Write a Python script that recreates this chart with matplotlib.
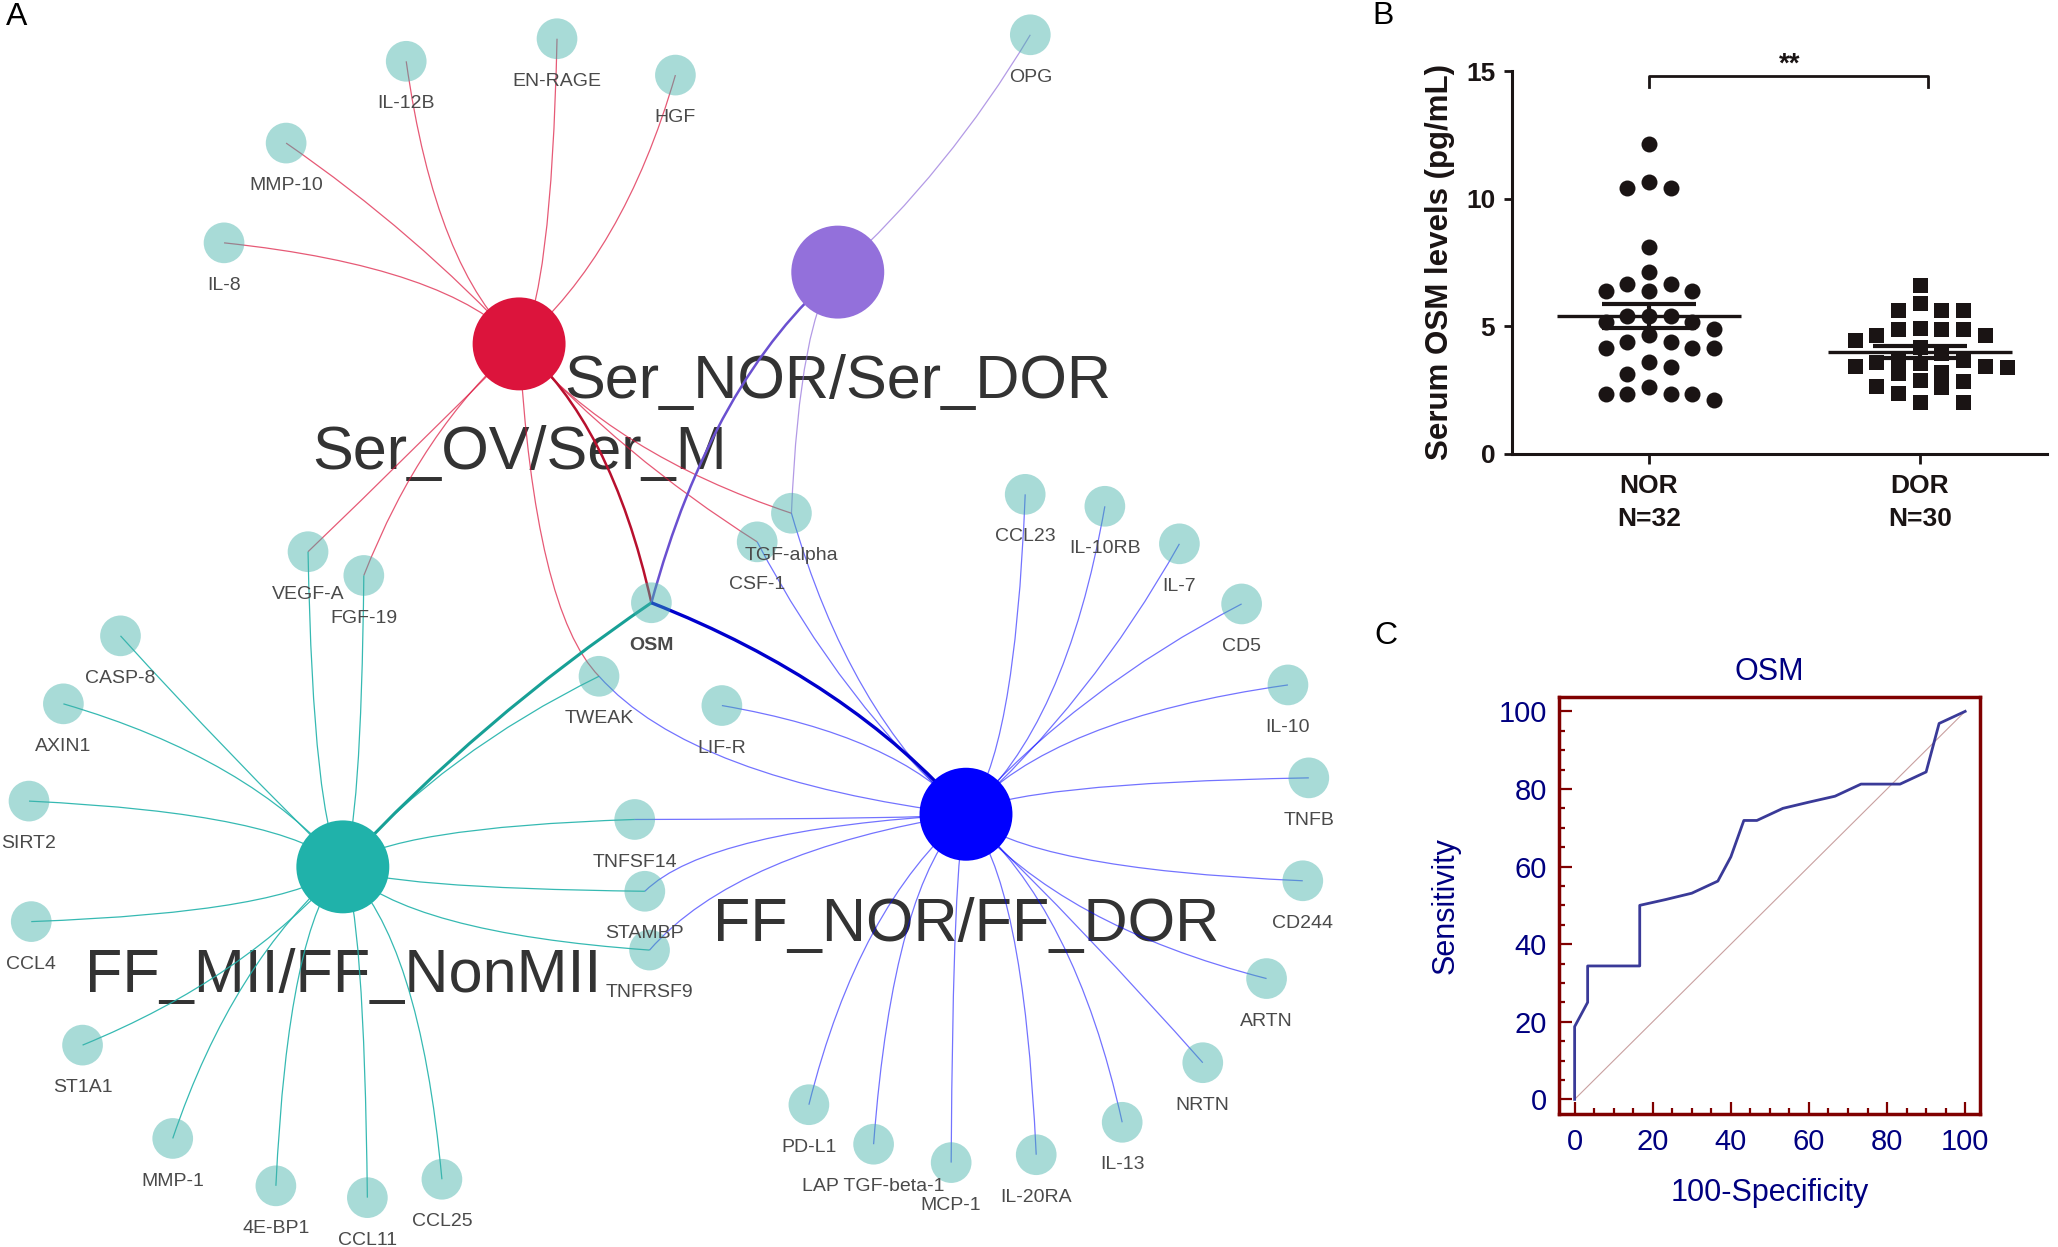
import numpy as np
import matplotlib.pyplot as plt
from matplotlib.path import Path
from matplotlib.patches import PathPatch, Circle

plt.rcParams['font.family'] = ['Liberation Sans', 'DejaVu Sans']

# ---------------- Panel A: network (canvas units 1568 x 950) ----------------
hubs = ['Ser_OV/Ser_M', 'Ser_NOR/Ser_DOR', 'FF_MII/FF_NonMII', 'FF_NOR/FF_DOR']
hub_x = [395.5, 638.3, 261.2, 736.0]
hub_y = [262.0, 207.3, 660.4, 620.3]
hub_colors = ['#DC143C', '#9370DB', '#20B2AA', '#0000FF']
hub_label_y = [357, 303, 755.5, 717]
hub_label_size = [44, 44, 44, 44]

leaf_names = ['OSM', 'IL-12B', 'EN-RAGE', 'HGF', 'MMP-10', 'IL-8', 'VEGF-A', 'FGF-19',
              'TGF-alpha', 'CSF-1', 'TWEAK', 'OPG', 'CASP-8', 'AXIN1', 'SIRT2', 'CCL4',
              'ST1A1', 'MMP-1', '4E-BP1', 'CCL11', 'CCL25', 'TNFSF14', 'STAMBP', 'TNFRSF9',
              'CCL23', 'IL-10RB', 'IL-7', 'CD5', 'IL-10', 'TNFB', 'CD244', 'ARTN', 'NRTN',
              'IL-13', 'IL-20RA', 'MCP-1', 'LAP TGF-beta-1', 'PD-L1', 'LIF-R']
leaf_x = [496.3, 309.5, 424.4, 514.6, 218.0, 170.7, 234.7, 277.2,
          603.0, 576.9, 456.4, 785.0, 91.8, 48.3, 22.1, 23.8,
          62.9, 131.6, 210.2, 279.9, 336.7, 483.6, 491.3, 494.9,
          781.1, 841.8, 898.6, 946.0, 981.3, 997.2, 992.6, 965.0, 916.4,
          855.0, 789.5, 724.7, 665.6, 616.3, 550.0]
leaf_y = [459.2, 46.7, 29.5, 57.2, 109.0, 185.0, 420.3, 438.4,
          391.0, 412.8, 515.2, 26.5, 484.4, 536.2, 610.3, 702.1,
          796.2, 867.3, 903.4, 912.4, 898.4, 624.3, 679.0, 723.8,
          376.6, 385.7, 414.3, 460.1, 521.8, 592.6, 671.0, 745.5, 809.6,
          855.0, 879.7, 885.7, 871.7, 841.6, 537.5]

edges_ser_ov = ['IL-12B', 'EN-RAGE', 'HGF', 'MMP-10', 'IL-8', 'VEGF-A', 'FGF-19',
                'TGF-alpha', 'CSF-1', 'TWEAK']
edges_ser_nor = ['OPG', 'TGF-alpha']
edges_ff_mii = ['CASP-8', 'AXIN1', 'SIRT2', 'CCL4', 'ST1A1', 'MMP-1', '4E-BP1', 'CCL11',
                'CCL25', 'VEGF-A', 'FGF-19', 'TWEAK', 'TNFSF14', 'STAMBP', 'TNFRSF9']
edges_ff_nor = ['CCL23', 'IL-10RB', 'IL-7', 'CD5', 'IL-10', 'TNFB', 'CD244', 'ARTN',
                'NRTN', 'IL-13', 'IL-20RA', 'MCP-1', 'LAP TGF-beta-1', 'PD-L1', 'LIF-R',
                'TGF-alpha', 'CSF-1', 'TWEAK', 'TNFSF14', 'STAMBP', 'TNFRSF9']
hub_edges = [edges_ser_ov, edges_ser_nor, edges_ff_mii, edges_ff_nor]
flipped = {('Ser_OV/Ser_M', 'TWEAK'), ('FF_NOR/FF_DOR', 'TWEAK'),
           ('FF_NOR/FF_DOR', 'STAMBP'), ('FF_NOR/FF_DOR', 'TNFRSF9')}

thin_alpha = [0.7, 0.7, 0.9, 0.55]
thick_colors = ['#B8102E', '#6A50D0', '#17A096', '#0000CD']
thick_widths = [1.8, 1.8, 2.2, 2.4]

# ---------------- Panel B data ----------------
nor_vals = [12.15, 10.65, 10.42, 10.42, 8.1, 7.14, 6.64, 6.64, 6.38, 6.38, 6.38,
            5.40, 5.40, 5.40, 5.18, 5.18, 4.88, 4.65, 4.39, 4.39, 4.14, 4.14, 4.14,
            3.61, 3.39, 3.12, 2.63, 2.34, 2.34, 2.34, 2.34, 2.10]
dor_vals = [6.62, 5.90, 5.64, 5.64, 5.64, 4.92, 4.88, 4.88, 4.88, 4.65, 4.65, 4.46,
            4.17, 3.95, 3.75, 3.67, 3.60, 3.54, 3.44, 3.43, 3.39, 3.20, 3.15, 2.89,
            2.85, 2.65, 2.60, 2.37, 2.04, 2.04]
group_labels = ['NOR\nN=32', 'DOR\nN=30']

# ---------------- Panel C data ----------------
roc_fpr = [0, 0, 3.33, 3.33, 16.67, 16.67, 23.33, 30.0, 36.67, 40.0, 43.33, 46.67,
           53.33, 60.0, 66.67, 73.33, 83.33, 90.0, 93.33, 100]
roc_tpr = [0, 18.75, 25.0, 34.38, 34.38, 50.0, 51.5, 53.13, 56.25, 62.5, 71.88, 71.88,
           75.0, 76.6, 78.13, 81.25, 81.25, 84.38, 96.88, 100]

W, H = 2058, 1247
fig = plt.figure(figsize=(W / 100, H / 100), dpi=100)

# ---- network ----
ax = fig.add_axes([0, 0, 1, 1])
ax.set_xlim(0, 1568)
ax.set_ylim(950, 0)
ax.axis('off')

pos = {n: np.array([x, y]) for n, x, y in zip(leaf_names, leaf_x, leaf_y)}
for n, x, y in zip(hubs, hub_x, hub_y):
    pos[n] = np.array([x, y])


def edge_path(p, q, flip=False, k=0.8):
    d = q - p
    mid = (p + q) / 2
    side = abs(d[0]) >= abs(d[1])
    if flip:
        side = not side
    corner = np.array([p[0], q[1]]) if side else np.array([q[0], p[1]])
    r = min(abs(d[0]), abs(d[1])) / max(abs(d[0]), abs(d[1]))
    ctrl = mid + k * (1 - r) * (corner - mid)
    return Path([p, ctrl, q], [Path.MOVETO, Path.CURVE3, Path.CURVE3])


for i, h in enumerate(hubs):
    for leaf in hub_edges[i]:
        path = edge_path(pos[h], pos[leaf], (h, leaf) in flipped)
        ax.add_patch(PathPatch(path, fc='none', ec=hub_colors[i], lw=0.9,
                               alpha=thin_alpha[i], zorder=1))
    path = edge_path(pos[h], pos['OSM'])
    ax.add_patch(PathPatch(path, fc='none', ec=thick_colors[i], lw=thick_widths[i], zorder=1.2))

for n, x, y in zip(leaf_names, leaf_x, leaf_y):
    ax.add_patch(Circle((x, y), 15.5, fc='#3fb0a8', ec='none', alpha=0.45, zorder=2))
    ax.text(x, y + 32.5, n, ha='center', va='center', fontsize=14, color='#4a4a4a',
            fontweight='bold' if n == 'OSM' else 'normal', zorder=4)

for i, h in enumerate(hubs):
    ax.add_patch(Circle((hub_x[i], hub_y[i]), 35.4, fc=hub_colors[i], ec='none', zorder=3))
    ax.text(hub_x[i], hub_label_y[i], h, ha='center', va='baseline',
            fontsize=hub_label_size[i], color='#333333', zorder=0.5)

# ---- panel B ----
axb = fig.add_axes([1512 / W, 1 - 453.6 / H, 535 / W, 382.2 / H])
axb.set_xlim(0.494, 2.47)
axb.set_ylim(0, 15)
ypx = 382.2 / 15
xpx = 535 / (2.47 - 0.494)


def swarm(vals, diam_px, step_px):
    order = np.argsort(vals)[::-1]
    offs = np.zeros(len(vals))
    placed = []
    for j in order:
        v = vals[j]
        for k in [0, 1, -1, 2, -2, 3, -3, 4, -4, 5, -5]:
            if all(not (pk == k and abs(pv - v) * ypx < diam_px) for pk, pv in placed):
                break
        placed.append((k, v))
        offs[j] = k * step_px / xpx
    return offs


nor = np.array(nor_vals)
dor = np.array(dor_vals)
axb.scatter(1 + swarm(nor, 16, 21.7), nor, s=11.5 ** 2, marker='o', color='#1a1414',
            linewidths=0, clip_on=False, zorder=2)
axb.scatter(2 + swarm(dor, 15, 21.7), dor, s=10.8 ** 2, marker='s', color='#1a1414',
            linewidths=0, clip_on=False, zorder=2)
for xc, vals in [(1, nor), (2, dor)]:
    m = vals.mean()
    se = vals.std(ddof=1) / np.sqrt(len(vals))
    axb.hlines(m, xc - 0.34, xc + 0.34, color='#1a1414', lw=2.4, zorder=3)
    axb.hlines([m - se, m + se], xc - 0.173, xc + 0.173, color='#1a1414', lw=3, zorder=3)
    axb.vlines(xc, m - se, m + se, color='#1a1414', lw=3, zorder=3)

axb.plot([1, 1, 2.03, 2.03], [14.37, 14.82, 14.82, 14.37], color='#1a1414', lw=2,
         clip_on=False)
axb.text(1.52, 14.75, '**', ha='center', va='bottom', fontsize=20, fontweight='bold',
         color='#1a1414')

for s in ['top', 'right']:
    axb.spines[s].set_visible(False)
for s in ['left', 'bottom']:
    axb.spines[s].set_linewidth(2.2)
    axb.spines[s].set_color('#1a1414')
axb.set_yticks([0, 5, 10, 15])
axb.set_xticks([1, 2])
axb.set_xticklabels(group_labels, linespacing=1.45)
axb.tick_params(axis='both', width=2, colors='#1a1414', labelsize=19)
axb.tick_params(axis='y', length=6, pad=6)
axb.tick_params(axis='x', length=7, pad=8)
for t in axb.get_xticklabels() + axb.get_yticklabels():
    t.set_fontweight('bold')
axb.set_ylabel('Serum OSM levels (pg/mL)', fontsize=22.5, fontweight='bold',
               color='#1a1414', labelpad=8)

# ---- panel C ----
axc = fig.add_axes([1559.4 / W, 1 - 1113.7 / H, 420.6 / W, 416.7 / H])
axc.plot([0, 100], [0, 100], color='#c9a0a0', lw=0.8)
axc.plot(roc_fpr, roc_tpr, color='#3a3a98', lw=2.0)
axc.set_xlim(-3.9, 103.8)
axc.set_ylim(-3.7, 103.7)
axc.set_xticks(np.arange(0, 101, 20))
axc.set_yticks(np.arange(0, 101, 20))
axc.set_xticks(np.arange(0, 101, 5), minor=True)
axc.set_yticks(np.arange(0, 101, 5), minor=True)
for s in axc.spines.values():
    s.set_color('#800000')
    s.set_linewidth(2.5)
axc.tick_params(which='both', direction='in', color='#800000', width=1.6,
                labelcolor='#000080', labelsize=21, top=False, right=False)
axc.tick_params(which='major', length=9)
axc.tick_params(which='minor', length=4.5)
axc.tick_params(axis='x', pad=10)
axc.tick_params(axis='y', pad=9)
axc.set_title('OSM', fontsize=22, color='#000080', pad=12)
axc.set_xlabel('100-Specificity', fontsize=22, color='#000080', labelpad=16)
axc.set_ylabel('Sensitivity', fontsize=22, color='#000080', labelpad=27)

# ---- panel letters ----
fig.text(17 / W, 1 - 17 / H, 'A', ha='center', va='center', fontsize=23)
fig.text(1383 / W, 1 - 16 / H, 'B', ha='center', va='center', fontsize=23)
fig.text(1386 / W, 1 - 636 / H, 'C', ha='center', va='center', fontsize=23)

fig.savefig('out.png', dpi=100)
